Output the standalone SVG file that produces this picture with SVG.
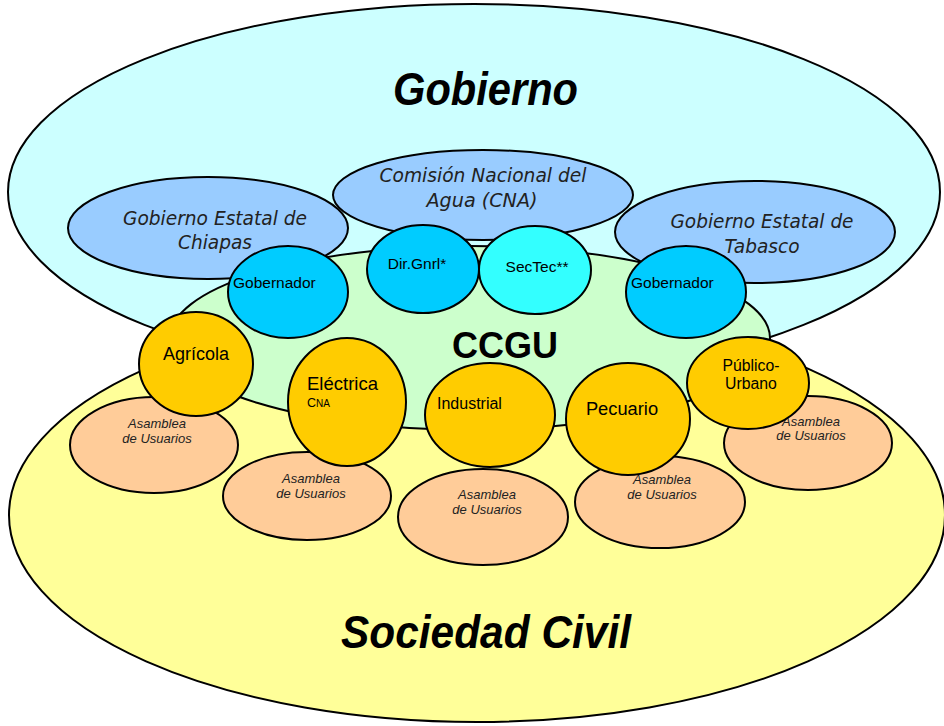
<svg xmlns="http://www.w3.org/2000/svg" width="944" height="726" viewBox="0 0 944 726">
<style>
.sh{stroke:#000;stroke-width:2}
.big{font-family:"Liberation Sans",Arial,sans-serif;font-weight:bold;font-style:italic;font-size:47px;fill:#000}
.ccgu{font-family:"Liberation Sans",Arial,sans-serif;font-weight:bold;font-size:36px;fill:#000}
.ent{font-family:"DejaVu Sans",Verdana,sans-serif;font-style:italic;font-size:20px;fill:#222;text-anchor:middle}
.lbl{font-family:"Liberation Sans",Arial,sans-serif;fill:#000}
.asm{font-family:"Liberation Sans",Arial,sans-serif;font-style:italic;font-size:13px;fill:#222;text-anchor:middle}
.gov{fill:#99CCFF}
.blue{fill:#00CCFF}
.cyan{fill:#33FFFF}
.org{fill:#FFCC00}
.peach{fill:#FFCC99}
</style>
<rect width="944" height="726" fill="#fff"/>
<g id="gobierno">
<ellipse class="sh" cx="474" cy="192" rx="466" ry="188" fill="#CCFFFF"/>
<text class="big" x="485.5" y="105" text-anchor="middle" textLength="185" lengthAdjust="spacingAndGlyphs">Gobierno</text>
</g>
<g id="sociedad-civil">
<ellipse class="sh" cx="477" cy="515" rx="468" ry="207" fill="#FFFF99"/>
<text class="big" x="486" y="648" text-anchor="middle" textLength="290" lengthAdjust="spacingAndGlyphs">Sociedad Civil</text>
</g>
<g id="ccgu">
<ellipse class="sh" cx="470" cy="338" rx="300" ry="92" fill="#CCFFCC"/>
<text class="ccgu" x="505" y="358" text-anchor="middle">CCGU</text>
</g>
<g id="connectors"></g>
<g id="chiapas">
<ellipse class="sh gov" cx="208" cy="228" rx="140" ry="51"/>
<text class="ent" x="215" y="225" textLength="184" lengthAdjust="spacingAndGlyphs">Gobierno Estatal de</text>
<text class="ent" x="215" y="249" textLength="74" lengthAdjust="spacingAndGlyphs">Chiapas</text>
</g>
<g id="cna">
<ellipse class="sh gov" cx="483" cy="195" rx="150" ry="45"/>
<text class="ent" x="483" y="182" textLength="207" lengthAdjust="spacingAndGlyphs">Comisión Nacional del</text>
<text class="ent" x="482" y="207" textLength="111" lengthAdjust="spacingAndGlyphs">Agua (CNA)</text>
</g>
<g id="tabasco">
<ellipse class="sh gov" cx="755" cy="232" rx="140" ry="51"/>
<text class="ent" x="762" y="228" textLength="183" lengthAdjust="spacingAndGlyphs">Gobierno Estatal de</text>
<text class="ent" x="762" y="253" textLength="75" lengthAdjust="spacingAndGlyphs">Tabasco</text>
</g>
<g id="gobernador-chiapas">
<ellipse class="sh blue" cx="288" cy="292" rx="60" ry="46"/>
<text class="lbl" x="233" y="288" font-size="15.5">Gobernador</text>
</g>
<g id="dir-gnrl">
<ellipse class="sh blue" cx="423" cy="269" rx="56" ry="44"/>
<text class="lbl" x="417" y="269" font-size="15.5" text-anchor="middle">Dir.Gnrl*</text>
</g>
<g id="sectec">
<ellipse class="sh cyan" cx="535" cy="270" rx="56" ry="44"/>
<text class="lbl" x="537" y="272" font-size="15.5" text-anchor="middle">SecTec**</text>
</g>
<g id="gobernador-tabasco">
<ellipse class="sh blue" cx="686" cy="292" rx="60" ry="46"/>
<text class="lbl" x="631" y="288" font-size="15.5">Gobernador</text>
</g>
<g id="asamblea-1">
<ellipse class="sh peach" cx="154" cy="445" rx="84" ry="48"/>
<text class="asm" x="157" y="428">Asamblea</text>
<text class="asm" x="157" y="443">de Usuarios</text>
</g>
<g id="asamblea-2">
<ellipse class="sh peach" cx="307" cy="496" rx="84" ry="44"/>
<text class="asm" x="311" y="483">Asamblea</text>
<text class="asm" x="311" y="498">de Usuarios</text>
</g>
<g id="asamblea-3">
<ellipse class="sh peach" cx="483" cy="517" rx="85" ry="48"/>
<text class="asm" x="487" y="499">Asamblea</text>
<text class="asm" x="487" y="514">de Usuarios</text>
</g>
<g id="asamblea-4">
<ellipse class="sh peach" cx="660" cy="502" rx="85" ry="46"/>
<text class="asm" x="662" y="484">Asamblea</text>
<text class="asm" x="662" y="499">de Usuarios</text>
</g>
<g id="asamblea-5">
<ellipse class="sh peach" cx="808" cy="443" rx="84" ry="47"/>
<text class="asm" x="811" y="426">Asamblea</text>
<text class="asm" x="811" y="440">de Usuarios</text>
</g>
<g id="agricola">
<ellipse class="sh org" cx="196" cy="364" rx="57" ry="52"/>
<text class="lbl" x="196" y="360" font-size="18" text-anchor="middle">Agrícola</text>
</g>
<g id="electrica">
<ellipse class="sh org" cx="347" cy="402" rx="59" ry="64"/>
<text class="lbl" x="307" y="390" font-size="18.5">Eléctrica</text>
<text class="lbl" x="307" y="407"><tspan font-size="12.5">C</tspan><tspan font-size="10">NA</tspan></text>
</g>
<g id="industrial">
<ellipse class="sh org" cx="490" cy="415" rx="65" ry="52"/>
<text class="lbl" x="437" y="409" font-size="16">Industrial</text>
</g>
<g id="pecuario">
<ellipse class="sh org" cx="628" cy="419" rx="62" ry="56"/>
<text class="lbl" x="622" y="415" font-size="18.3" text-anchor="middle">Pecuario</text>
</g>
<g id="publico-urbano">
<ellipse class="sh org" cx="748" cy="383" rx="61" ry="46"/>
<text class="lbl" x="751" y="371" font-size="15.8" text-anchor="middle">Público-</text>
<text class="lbl" x="751" y="389" font-size="15.8" text-anchor="middle">Urbano</text>
</g>
</svg>
